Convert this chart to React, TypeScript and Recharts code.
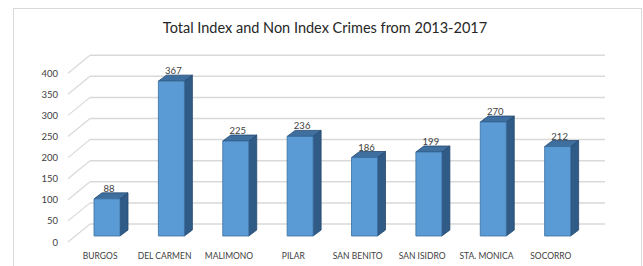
import React from "react";
import { BarChart, Bar, XAxis, YAxis, CartesianGrid, LabelList } from "recharts";

const categories = ["BURGOS", "DEL CARMEN", "MALIMONO", "PILAR", "SAN BENITO", "SAN ISIDRO", "STA. MONICA", "SOCORRO"];
const crimes = [88, 367, 225, 236, 186, 199, 270, 212];
const yTicks = [0, 50, 100, 150, 200, 250, 300, 350, 400];

const data = categories.map((name, i) => ({ name, value: crimes[i] }));

// 3D offsets relative to the bar plane
const BACK_DX = 15;
const BACK_DY = -12;
const FRONT_DX = -7;
const FRONT_DY = 6;
const DEPTH_DX = 8;
const DEPTH_DY = -6;

const FONT = "Lato, 'Open Sans', sans-serif";

const Bar3D = (props: any) => {
  const { x, y, width, height } = props;
  if (height == null || width == null) return null;
  const front = `M${x},${y} h${width} v${height} h${-width} Z`;
  const side = `M${x + width},${y} l${DEPTH_DX},${DEPTH_DY} v${height} l${-DEPTH_DX},${-DEPTH_DY} Z`;
  const top = `M${x},${y} l${DEPTH_DX},${DEPTH_DY} h${width} l${-DEPTH_DX},${-DEPTH_DY} Z`;
  return (
    <g>
      <path d={side} fill="#2f5b86" stroke="#24496e" strokeWidth={0.8} />
      <path d={top} fill="#3f6f9f" stroke="#24496e" strokeWidth={0.8} />
      <path d={front} fill="#5b9bd5" stroke="#3a6f9f" strokeWidth={0.8} />
    </g>
  );
};

const GridLine = (props: any) => {
  const { x1, y1, x2, y2 } = props;
  return (
    <g>
      <line x1={x1 + FRONT_DX} y1={y1 + FRONT_DY} x2={x1 + BACK_DX} y2={y1 + BACK_DY} stroke="#d9d9d9" strokeWidth={1.2} />
      <line x1={x1 + BACK_DX} y1={y1 + BACK_DY} x2={x2 + BACK_DX} y2={y2 + BACK_DY} stroke="#d9d9d9" strokeWidth={1.5} />
    </g>
  );
};

const YTick = (props: any) => {
  const { x, y, payload } = props;
  return (
    <text x={x + FRONT_DX - 2} y={y + FRONT_DY} textAnchor="end" dominantBaseline="central" fontSize={9.5} fill="#404040" fontFamily={FONT}>
      {payload.value}
    </text>
  );
};

const XTick = (props: any) => {
  const { x, y, payload } = props;
  return (
    <text x={x + FRONT_DX} y={y + 15} textAnchor="middle" fontSize={8.5} fill="#404040" fontFamily={FONT}>
      {payload.value}
    </text>
  );
};

const ValueLabel = (props: any) => {
  const { x, y, width, value } = props;
  return (
    <text x={x + width / 2 + 2} y={y + DEPTH_DY - 1} textAnchor="middle" fontSize={9.5} fill="#404040" fontFamily={FONT}>
      {value}
    </text>
  );
};

export default function App() {
  return (
    <div style={{ position: "absolute", left: 0, top: 0, width: 643, height: 266, background: "#fff" }}>
      <div style={{ position: "absolute", left: 13, top: 8, width: 629, height: 262, border: "1px solid #d9d9d9", boxSizing: "border-box" }} />
      <div style={{ position: "absolute", left: 0, top: 19, width: 650, textAlign: "center", fontFamily: FONT, fontSize: 14.5, color: "#262626" }}>
        Total Index and Non Index Crimes from 2013-2017
      </div>
      <div style={{ position: "absolute", left: 0, top: 0 }}>
        <BarChart width={643} height={266} data={data} margin={{ top: 67.2, right: 53, bottom: 0, left: 0 }}>
          <CartesianGrid vertical={false} horizontal={(p: any) => <GridLine key={p.key ?? `${p.y1}`} {...p} />} />
          <XAxis dataKey="name" height={30} axisLine={false} tickLine={false} tick={<XTick />} interval={0} />
          <YAxis width={75} domain={[0, 400]} ticks={yTicks} axisLine={false} tickLine={false} tick={<YTick />} interval={0} />
          <Bar dataKey="value" barSize={26} shape={<Bar3D />} isAnimationActive={false}>
            <LabelList dataKey="value" content={<ValueLabel />} />
          </Bar>
        </BarChart>
      </div>
    </div>
  );
}
